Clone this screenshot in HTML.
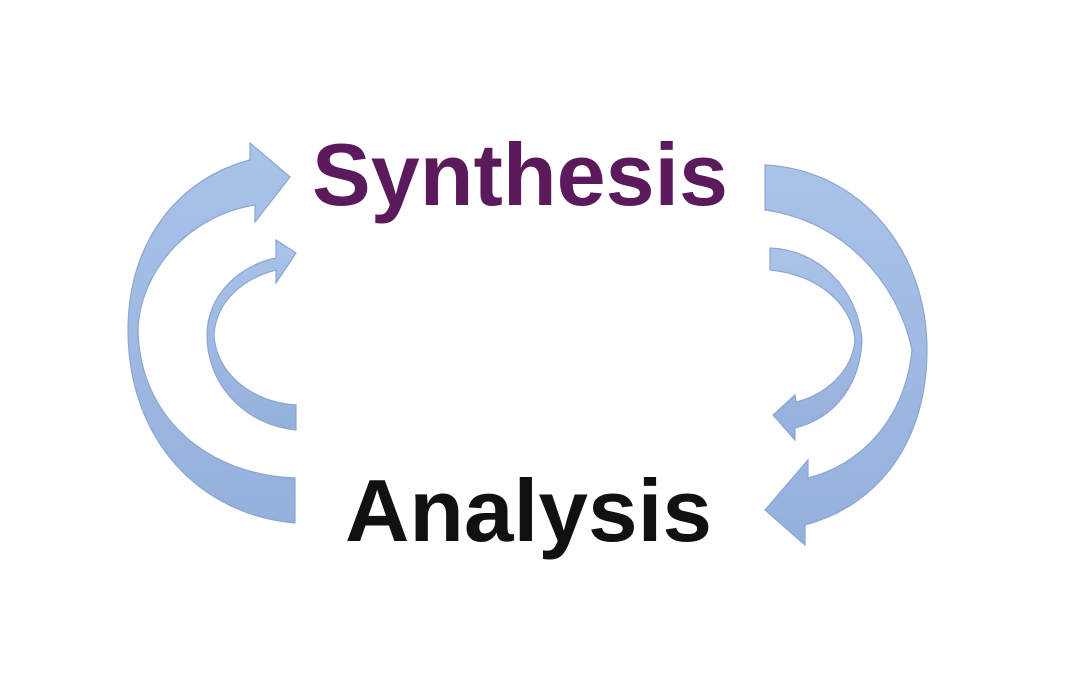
<!DOCTYPE html>
<html><head><style>html,body{margin:0;padding:0;background:#fff;}svg{display:block}</style></head>
<body>
<svg width="1090" height="686" viewBox="0 0 1090 686" xmlns="http://www.w3.org/2000/svg">
<defs>
<linearGradient id="g" x1="0" y1="0" x2="0" y2="1">
<stop offset="0" stop-color="#a9c3ea"/><stop offset="1" stop-color="#94b0dc"/>
</linearGradient>
</defs>
<g fill="url(#g)" stroke="#8ea6cf" stroke-width="1.2">
<path d="M295,478 L295,523 C200,515 128,440 128,330 C128,240 180,178 250,160 L250,143 L290,177 L255,222 L255,205 C190,215 140,270 138,330 C140,420 210,475 295,478 Z"/>
<path d="M296,405 L296,430 C245,425 207,385 207,335 C207,295 240,265 276,258 L276,240 L296,253 L276,283 L276,270 C245,278 216,300 214,335 C216,372 250,402 296,405 Z"/>
<path d="M765,165 L765,210 C850,222 900,290 912,350 C905,420 860,465 808,478 L808,460 L765,510 L805,545 L805,525 C880,505 927,440 927,350 C927,250 860,170 765,165 Z"/>
<path d="M770,248 L770,270 C820,275 852,305 855,340 C852,372 825,395 796,402 L795,395 L773,415 L795,440 L795,428 C835,418 860,385 862,340 C858,290 820,250 770,248 Z"/>
</g>
<text x="312" y="205" font-family="Liberation Sans, sans-serif" font-weight="bold" font-size="88" fill="#5b1a5c" textLength="416" lengthAdjust="spacingAndGlyphs">Synthesis</text>
<text x="345" y="541" font-family="Liberation Sans, sans-serif" font-weight="bold" font-size="88" fill="#111" textLength="367" lengthAdjust="spacingAndGlyphs">Analysis</text>
</svg>
</body></html>
